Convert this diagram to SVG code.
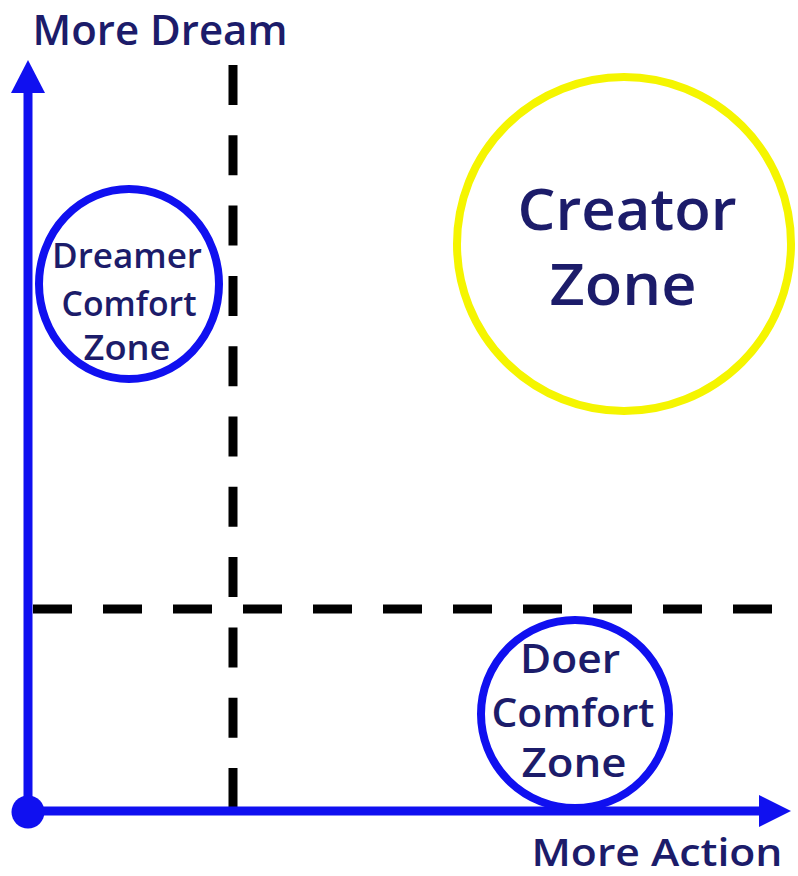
<svg xmlns="http://www.w3.org/2000/svg" width="798" height="876" viewBox="0 0 798 876">
<style>
.lbl{font-family:"Open Sans","DejaVu Sans",sans-serif;font-weight:600;fill:#1c1c6a;text-anchor:middle}
.axis{stroke:#1010f0;stroke-width:9;fill:none}
.dash{stroke:#000;stroke-width:9;fill:none}
.zone{stroke:#1010f0;stroke-width:8;fill:none}
</style>
<rect width="798" height="876" fill="#fff"/>
<g id="connectors">
<line class="dash" x1="233" y1="65" x2="233" y2="808" stroke-dasharray="40 30.3"/>
<line class="dash" x1="33" y1="609" x2="775" y2="609" stroke-dasharray="39 31"/>
<line class="axis" x1="28" y1="812" x2="28" y2="88"/>
<polygon points="28,60 11,93 45,93" fill="#1010f0"/>
<line class="axis" x1="28" y1="811" x2="765" y2="811"/>
<polygon points="791,811 759,795 759,827" fill="#1010f0"/>
<circle cx="28" cy="812" r="16.5" fill="#1010f0"/>
</g>
<g id="dreamer">
<ellipse class="zone" cx="129" cy="284" rx="90" ry="95"/>
<text class="lbl" x="127" y="268" font-size="35" textLength="150" lengthAdjust="spacingAndGlyphs">Dreamer</text>
<text class="lbl" x="129" y="316" font-size="35" textLength="135" lengthAdjust="spacingAndGlyphs">Comfort</text>
<text class="lbl" x="127" y="360" font-size="35" textLength="87" lengthAdjust="spacingAndGlyphs">Zone</text>
</g>
<g id="doer">
<circle class="zone" cx="575" cy="714" r="94"/>
<text class="lbl" x="570" y="673" font-size="39" textLength="100" lengthAdjust="spacingAndGlyphs">Doer</text>
<text class="lbl" x="573" y="727" font-size="39" textLength="163" lengthAdjust="spacingAndGlyphs">Comfort</text>
<text class="lbl" x="574" y="777" font-size="39" textLength="105" lengthAdjust="spacingAndGlyphs">Zone</text>
</g>
<g id="creator">
<circle cx="624" cy="244" r="167" fill="none" stroke="#f5f500" stroke-width="8"/>
<text class="lbl" x="627" y="230" font-size="57" textLength="219" lengthAdjust="spacingAndGlyphs">Creator</text>
<text class="lbl" x="623" y="305" font-size="57" textLength="147" lengthAdjust="spacingAndGlyphs">Zone</text>
</g>
<g id="labels">
<text class="lbl" x="160" y="45" font-size="41" textLength="255" lengthAdjust="spacingAndGlyphs">More Dream</text>
<text class="lbl" x="657" y="866" font-size="38" textLength="251" lengthAdjust="spacingAndGlyphs">More Action</text>
</g>
</svg>
